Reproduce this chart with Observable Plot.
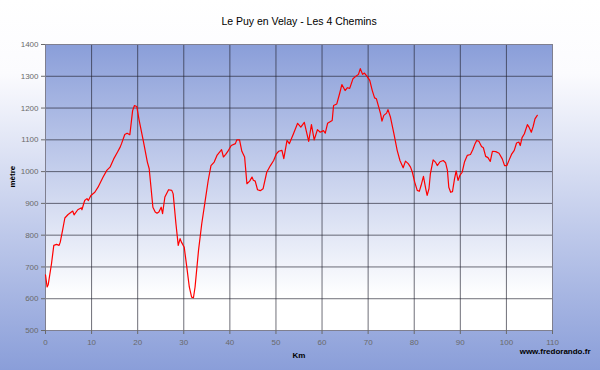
<!DOCTYPE html>
<html>
<head>
<meta charset="utf-8">
<script src="https://cdn.jsdelivr.net/npm/d3@7"></script>
<script src="https://cdn.jsdelivr.net/npm/@observablehq/plot@0.6"></script>
<style>
  html, body { margin: 0; padding: 0; background: #fff; }
  #chart { width: 600px; height: 370px; }
</style>
</head>
<body>
<div id="chart"></div>
<script>
const titleText = "Le Puy en Velay - Les 4 Chemins";
const yLabel = "mètre";
const xLabel = "Km";
const credit = "www.fredorando.fr";
const xTicks = [0, 10, 20, 30, 40, 50, 60, 70, 80, 90, 100, 110];
const yTicks = [500, 600, 700, 800, 900, 1000, 1100, 1200, 1300, 1400];

const km = [0,0.35,0.6,1.3,1.8,2.4,2.95,3.2,3.7,4.2,4.9,5.9,6.2,7.0,7.8,7.9,8.5,9.0,9.3,9.85,10.7,11.4,12.5,13.3,14.0,14.8,15.6,16.2,16.5,17.2,17.7,18.3,18.9,19.3,19.8,20.3,21.2,22.1,22.5,23.3,23.8,24.2,24.6,25.1,25.4,25.9,26.7,27.4,27.7,28.3,28.8,29.2,29.5,30.1,30.65,31.2,31.7,32.1,32.45,33.2,33.9,34.6,35.3,35.9,36.6,37.2,37.9,38.2,38.6,39.1,39.7,40.3,41.2,41.5,42.1,42.6,43.2,43.7,44.3,44.8,45.1,45.5,46.0,46.6,47.2,48.0,48.8,49.5,50.1,50.6,51.3,51.7,52.4,52.9,53.8,54.7,55.4,56.15,57.1,57.7,58.3,59.0,59.6,60.3,60.7,61.2,62.2,62.5,63.2,63.8,64.3,65.0,65.5,66.0,66.7,67.5,67.9,68.3,68.8,69.2,69.8,70.35,70.9,71.4,71.8,72.3,72.7,73.0,73.4,74.0,74.3,74.85,75.6,76.3,76.9,77.6,78.1,78.7,79.2,79.6,80.1,80.65,81.1,81.5,82.0,82.5,82.8,83.2,83.5,84.1,84.6,85.0,85.6,86.3,86.8,87.2,87.5,87.9,88.3,88.75,89.1,89.5,89.9,90.4,90.9,91.5,92.2,92.7,93.2,93.55,94.05,94.6,95.0,95.5,96.0,96.5,96.96,97.7,98.4,99.1,99.6,100.1,100.6,101.1,101.7,102.2,102.7,103.0,103.4,103.9,104.55,104.9,105.4,105.8,106.2,106.7];

const altitude = [675,637,645,710,768,771,768,778,815,854,865,876,864,880,886,880,909,915,909,925,935,951,983,1004,1014,1040,1061,1077,1088,1117,1121,1116,1192,1208,1205,1163,1098,1030,1009,888,873,869,873,888,868,920,943,941,930,836,768,789,778,762,700,637,605,603,637,752,836,904,972,1019,1030,1051,1064,1069,1046,1054,1067,1082,1088,1100,1100,1064,1046,962,970,983,973,970,943,940,946,998,1019,1035,1056,1064,1067,1041,1098,1088,1119,1152,1140,1155,1095,1148,1100,1132,1124,1129,1121,1152,1161,1208,1213,1245,1274,1255,1264,1262,1292,1302,1306,1324,1306,1310,1299,1287,1255,1232,1229,1203,1182,1159,1177,1184,1195,1171,1119,1067,1035,1012,1033,1025,1014,998,967,941,938,957,985,946,925,946,993,1037,1030,1019,1031,1035,1028,1004,951,935,937,978,1002,972,988,998,1030,1051,1054,1069,1088,1098,1095,1079,1075,1048,1044,1032,1064,1063,1058,1040,1019,1019,1037,1054,1067,1090,1093,1082,1107,1119,1148,1140,1124,1142,1166,1177];

const profile = km.map((k, i) => ({km: k, alt: altitude[i]}));

const font = "'Liberation Sans', Arial, sans-serif";

const chart = Plot.plot({
  width: 600,
  height: 370,
  marginLeft: 45,
  marginRight: 48,
  marginTop: 44,
  marginBottom: 40,
  style: {fontFamily: font, fontSize: "8px", background: "transparent", overflow: "visible"},
  x: {domain: [0, 110], ticks: xTicks},
  y: {domain: [500, 1400], ticks: yTicks},
  marks: [
    Plot.frame({fill: "url(#plotbg)", stroke: null}),
    Plot.gridX(xTicks, {stroke: "#22222f", strokeOpacity: 0.65, strokeWidth: 1}),
    Plot.gridY(yTicks, {stroke: "#22222f", strokeOpacity: 0.65, strokeWidth: 1}),
    Plot.frame({stroke: "#7f7f8f", strokeOpacity: 1}),
    Plot.axisX(xTicks, {tickSize: 4, tickPadding: 5, color: "#6a6a6a", fontSize: 8, label: null, tickFormat: d => String(d)}),
    Plot.axisY(yTicks, {tickSize: 4, tickPadding: 3, color: "#6a6a6a", fontSize: 8, label: null, tickFormat: d => String(d)}),
    Plot.line(profile, {x: "km", y: "alt", stroke: "#ff0000", strokeWidth: 1.2}),
    Plot.text([titleText], {text: d => d, frameAnchor: "top", dy: -27, fontSize: 10.5, fill: "#000"}),
    Plot.text([yLabel], {text: d => d, frameAnchor: "left", dx: -33, rotate: -90, fontSize: 8, fontWeight: "bold", fill: "#000"}),
    Plot.text([xLabel], {text: d => d, frameAnchor: "bottom", dy: 27, fontSize: 8, fontWeight: "bold", fill: "#000"}),
    Plot.text([credit], {text: d => d, frameAnchor: "bottom-right", textAnchor: "end", dx: 38, dy: 23, fontSize: 8, fontWeight: "bold", fill: "#000"})
  ]
});

const svg = d3.select(chart);
const defs = svg.insert("defs", ":first-child");
const outer = defs.append("linearGradient").attr("id", "outerbg").attr("x1", 0).attr("y1", 0).attr("x2", 0).attr("y2", 1);
outer.append("stop").attr("offset", "0%").attr("stop-color", "#ffffff");
outer.append("stop").attr("offset", "20%").attr("stop-color", "#fbfbfe");
outer.append("stop").attr("offset", "100%").attr("stop-color", "#8a9ed9");
const inner = defs.append("linearGradient").attr("id", "plotbg").attr("x1", 0).attr("y1", 0).attr("x2", 0).attr("y2", 1);
inner.append("stop").attr("offset", "0%").attr("stop-color", "#8a9ed9");
inner.append("stop").attr("offset", "88%").attr("stop-color", "#ffffff");
inner.append("stop").attr("offset", "100%").attr("stop-color", "#ffffff");
defs.lower();
svg.insert("rect", "defs + *").attr("x", 0).attr("y", 0).attr("width", 600).attr("height", 370).attr("fill", "url(#outerbg)");

document.getElementById("chart").appendChild(chart);
</script>
</body>
</html>
